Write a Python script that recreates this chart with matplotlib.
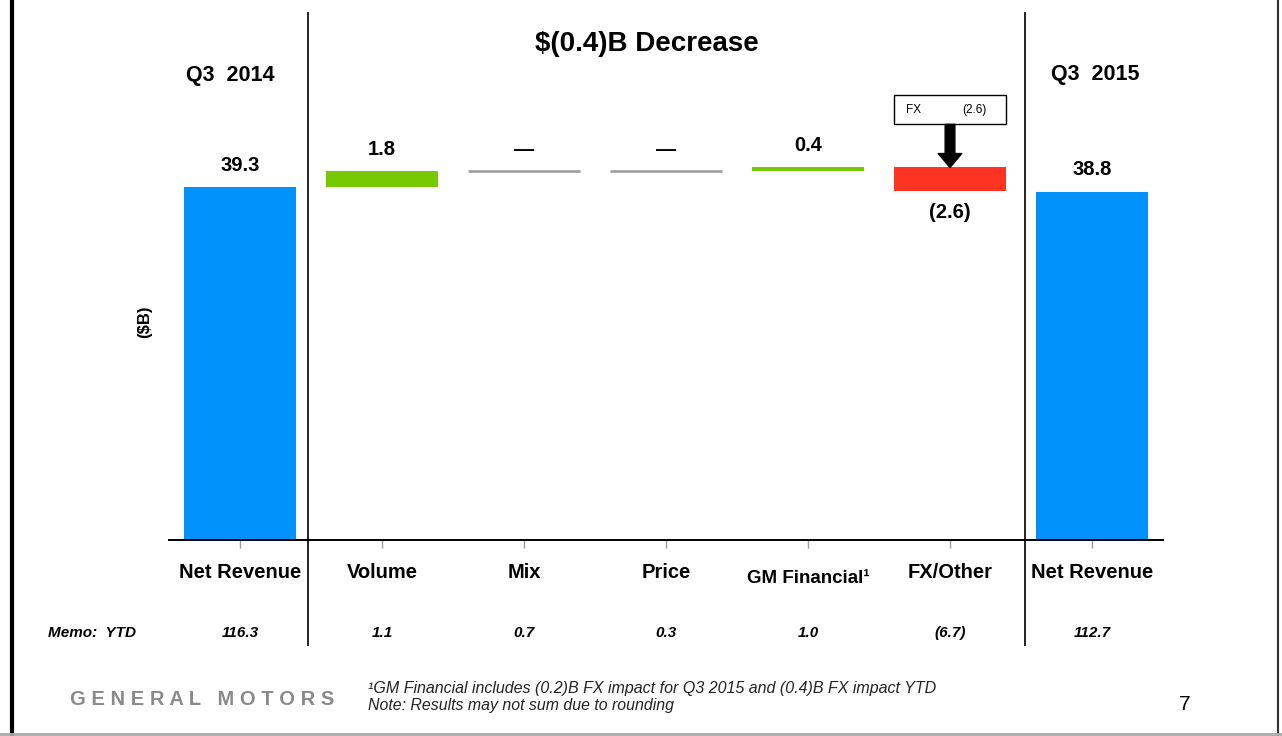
import matplotlib
matplotlib.use("Agg")
import matplotlib.pyplot as plt
from matplotlib.lines import Line2D
from matplotlib.patches import Rectangle
from matplotlib.transforms import blended_transform_factory

plt.rcParams["font.family"] = ["Liberation Sans", "DejaVu Sans"]

# ---- data ----
categories = ["Net Revenue", "Volume", "Mix", "Price", "GM Financial\u00b9", "FX/Other", "Net Revenue"]
start_value = 39.3
deltas = [1.8, 0.0, 0.0, 0.4, -2.6]
end_value = 38.8
value_labels = ["39.3", "1.8", "\u2014", "\u2014", "0.4", "(2.6)", "38.8"]
memo_ytd = ["116.3", "1.1", "0.7", "0.3", "1.0", "(6.7)", "112.7"]
fx_callout = -2.6

BLUE = "#0092fa"
GREEN = "#77c800"
RED = "#ff3322"
GRAY = "#9a9a9a"

fig = plt.figure(figsize=(12.82, 7.36), dpi=100)
ax = fig.add_axes([0.1318, 0.2663, 0.7754, 0.716])
W = 0.79

# totals
ax.bar(0, start_value, width=W, color=BLUE)
ax.bar(len(categories) - 1, end_value, width=W, color=BLUE)

# bridge steps
level = start_value
step_tops = []
for i, d in enumerate(deltas, start=1):
    if d == 0:
        ax.hlines(level, i - W / 2, i + W / 2, color=GRAY, lw=1.8)
        step_tops.append((level, level))
    else:
        c = GREEN if d > 0 else RED
        ax.bar(i, d, bottom=level, width=W, color=c)
        step_tops.append((level, level + d))
    level += d

# value labels
tops = [start_value] + [max(a, b) for a, b in step_tops] + [end_value]
bottoms = [0] + [min(a, b) for a, b in step_tops] + [0]
all_vals = [start_value] + deltas + [end_value]
for i, (lab, v) in enumerate(zip(value_labels, all_vals)):
    if v < 0:
        ax.annotate(lab, (i, bottoms[i]), xytext=(0, -9), textcoords="offset points",
                    ha="center", va="top", fontsize=14.5, fontweight="bold")
    else:
        ax.annotate(lab, (i, tops[i]), xytext=(0, 9), textcoords="offset points",
                    ha="center", va="bottom", fontsize=14.5, fontweight="bold")

# FX callout box + arrow over FX/Other
fx_i = 5
box_lo, box_hi = 46.3, 49.6
ax.add_patch(Rectangle((fx_i - W / 2, box_lo), W, box_hi - box_lo, facecolor="white",
                       edgecolor="black", lw=1.0, clip_on=False))
ax.text(fx_i - 0.26, (box_lo + box_hi) / 2, "FX", ha="center", va="center", fontsize=8.5)
ax.text(fx_i + 0.17, (box_lo + box_hi) / 2, f"({abs(fx_callout):.1f})", ha="center", va="center", fontsize=8.5)
ax.annotate("", xy=(fx_i, tops[fx_i]), xytext=(fx_i, box_lo),
            arrowprops=dict(facecolor="black", edgecolor="black", width=7, headwidth=17,
                            headlength=10, shrink=0))

ax.set_xlim(-0.5, len(categories) - 0.5)
ax.set_ylim(0, 58.7)
for s in ["top", "right", "left"]:
    ax.spines[s].set_visible(False)
ax.spines["bottom"].set_linewidth(1.4)
ax.set_yticks([])
ax.set_xticks(range(len(categories)))
ax.set_xticklabels([])
ax.tick_params(axis="x", direction="out", length=6, width=1.0, color=GRAY)

# category labels
xa = blended_transform_factory(ax.transData, ax.transAxes)
for i, c in enumerate(categories):
    y = -0.074 if "Financial" in c else -0.061
    fs = 13.5 if "Financial" in c else 14.5
    ax.text(i, y, c, transform=xa, ha="center", va="center", fontsize=fs, fontweight="bold")

# dividers
for x in [0.48, 5.53]:
    ax.add_line(Line2D([x, x], [-0.199, 1.0], transform=xa, color="#222222", lw=1.4, clip_on=False))

# headers
fig.text(0.1794, 0.898, "Q3  2014", ha="center", va="center", fontsize=15.5, fontweight="bold")
fig.text(0.5047, 0.940, "$(0.4)B Decrease", ha="center", va="center", fontsize=20, fontweight="bold")
fig.text(0.854, 0.899, "Q3  2015", ha="center", va="center", fontsize=15.5, fontweight="bold")
fig.text(0.113, 0.5625, "($B)", rotation=90, ha="center", va="center", fontsize=12, fontweight="bold")

# memo row
xf = blended_transform_factory(ax.transData, fig.transFigure)
fig.text(0.0374, 0.140, "Memo:  YTD", ha="left", va="center", fontsize=11, fontweight="bold", style="italic")
for i, m in enumerate(memo_ytd):
    ax.text(i, 0.140, m, transform=xf, ha="center", va="center", fontsize=11,
            fontweight="bold", style="italic")

# footer
fig.text(0.0546, 0.049, "G E N E R A L   M O T O R S", ha="left", va="center", fontsize=14.5,
         color="#8a8a8a", fontweight="bold")
fig.text(0.287, 0.065, "\u00b9GM Financial includes (0.2)B FX impact for Q3 2015 and (0.4)B FX impact YTD",
         ha="left", va="center", fontsize=11.5, style="italic", color="#222222")
fig.text(0.287, 0.041, "Note: Results may not sum due to rounding",
         ha="left", va="center", fontsize=11.4, style="italic", color="#222222")
fig.text(0.924, 0.043, "7", ha="center", va="center", fontsize=15)

# slide border
fig.add_artist(Line2D([0.0094, 0.0094], [0, 1], transform=fig.transFigure, color="black", lw=3))
fig.add_artist(Line2D([0.9965, 0.9965], [0, 1], transform=fig.transFigure, color="#333333", lw=1.5))
fig.add_artist(Line2D([0, 1], [0.003, 0.003], transform=fig.transFigure, color="#aaaaaa", lw=2))

fig.savefig("out.png", dpi=100)
